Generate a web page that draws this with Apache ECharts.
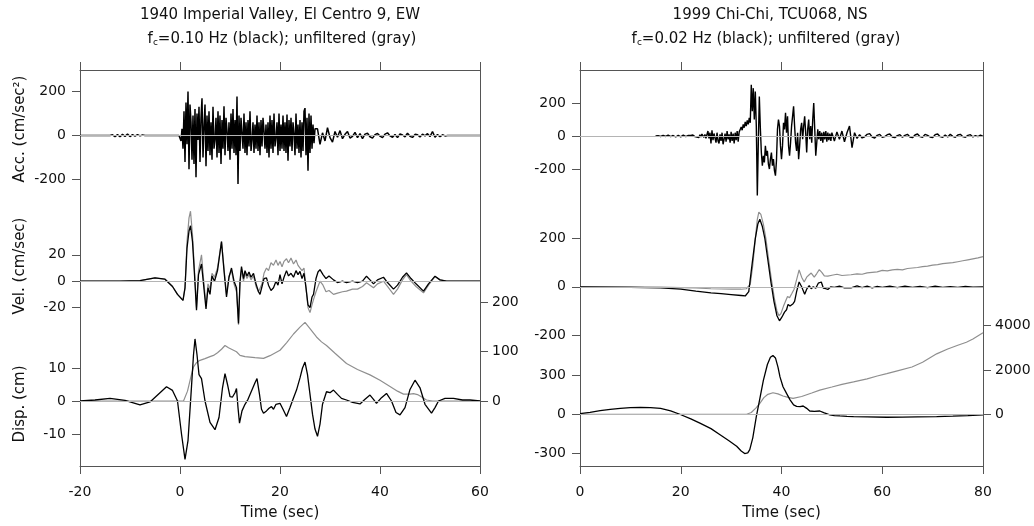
<!DOCTYPE html>
<html><head><meta charset="utf-8">
<script src="https://cdn.jsdelivr.net/npm/echarts@6/dist/echarts.min.js"></script>
<style>html,body{margin:0;padding:0;background:#fff}#c{width:1034px;height:526px}</style>
</head><body><div id="c"></div>
<script>
// ---------------- DATA ----------------
// 1940 Imperial Valley, El Centro 9, EW
const X_TICKS_L = [-20, 0, 20, 40, 60];
const X_TICKS_R = [0, 20, 40, 60, 80];
const Y_TICKS_L = { acc: [-200, 0, 200], vel: [-20, 0, 20], disp: [-10, 0, 10], dispGray: [0, 100, 200] };
const Y_TICKS_R = { acc: [-200, 0, 200], vel: [-200, 0, 200], disp: [-300, 0, 300], dispGray: [0, 2000, 4000] };

// acceleration (cm/s^2), uniformly sampled segments
const ACC_L_PRE = [0, 3, -5, 4, -6, 5, -4, 6, -5, 4, -3, 4, -2, 2, 0];            // t=-14 .. -7, step .5
const ACC_L_STRONG = [
  0, -25, 30, -60, 110, -120, 150, -40, 199, -153,
  140, 60, -110, 90, -130, 120, -190, 100, -20, 130,
  -120, 80, 169, -100, 40, 140, -140, 90, -70, 110,
  -90, 60, -110, 130, -60, -20, 80, -100, 110, -80,
  90, -130, 70, -60, 132, -90, 80, 20, -70, 60,
  -110, 100, -60, 120, -80, 70, -90, 177, -220, 90,
  -70, 80, 10, -60, 100, -80, 60, -90, 70, -50,
  110, -70, -20, 60, -80, 50, -60, 90, -70, 60,
  -90, 70, -50, 80, 20, -60, 50, -80, 60, -100,
  90, -60, 70, -80, 100, -50, -10, 60, -90, 100,
  -70, 50, -60, 90, -70, 60, -80, 95, -115, 70,
  -50, 80, -70, 60, 10, -90, 100, -60, 50, -80,
  70, -100, 60, -70, 110, 124, -90, 80, -160, 100,
  -80, 90, -60, 50, -35, 30];                                                       // t=0 .. 27, step .2
const ACC_L_TAIL = [30, -40, 12, -25, 35, -10, -30, 18, -8, 22,
  -15, 5, 18, -12, -4, 14, -10, 8, -14, 6,
  10, -6, -12, 4, 9, -3, -10, 6, 12, -2,
  -8, 4, -10, 7, 2, -6, 10, -4, -9, 5,
  3, -7, 6, -2, 8, -5, 18, -8, 4, -6,
  3, -2, 0];                                                                        // t=27.5 .. 53.5, step .5

// velocity (cm/s) [t, v]
const VEL_L_BLACK = [[-20,0],[-12,0],[-8,0.5],[-5,2.5],[-3,1.5],[-1.5,-4],[-0.5,-10],[0.6,-14.5],[1.0,-5],[1.4,25],[1.8,38],[2.1,42],[2.5,30],[2.9,5],[3.3,-22],[3.7,5],[4.3,13],[4.7,-2],[5.2,-21],[5.6,-5],[6.0,-10],[6.4,4],[6.9,0],[7.5,8],[8.3,30],[8.8,8],[9.3,-12],[9.8,3],[10.3,10],[10.8,0],[11.3,-5],[11.7,-32],[12.0,0],[12.3,11],[12.7,2],[13.0,8],[13.4,4],[13.8,7],[14.2,3],[14.7,6],[15.2,-2],[15.7,-8],[16.0,-10],[16.4,-4],[16.8,2],[17.3,2.5],[17.7,-3],[18.2,-7],[18.7,-5],[19.2,0],[19.6,-3],[20.0,5],[20.4,-2],[20.8,3],[21.3,8],[21.7,4],[22.2,6],[22.7,3],[23.2,8],[23.6,5],[24.0,7.5],[24.4,2],[24.8,6],[25.2,-5],[25.6,-18],[26.0,-20],[26.4,-12],[26.7,-10],[27.2,2],[27.6,7],[28.0,8.8],[28.6,5],[29.2,2],[29.8,4],[30.7,1],[31.5,-1],[32.5,0],[33.3,-1],[34.5,0],[35.5,-1],[36.5,0],[37.3,3.8],[38.0,1],[38.7,-2],[39.5,1],[40.7,3],[41.5,-1],[42.7,-6],[43.5,-3],[44.5,3],[45.3,6.3],[46.2,2],[47.2,-2],[48.7,-7.5],[49.7,-2],[51.0,3.8],[52.0,1],[53.3,0],[60,0]];
const VEL_L_GRAY = [[-20,0],[-12,0],[-8,0.5],[-5,2.5],[-3,1.5],[-1.5,-4],[-0.5,-10],[0.6,-14.5],[1.0,-5],[1.4,30],[1.8,48],[2.1,53],[2.5,35],[2.9,8],[3.3,-20],[3.7,8],[4.3,20],[4.7,2],[5.2,-18],[5.6,-2],[6.0,-6],[6.4,6],[6.9,3],[7.5,10],[8.3,30],[8.8,10],[9.3,-10],[9.8,4],[10.3,8],[10.8,-2],[11.3,-8],[11.7,-33],[12.0,-2],[12.3,9],[12.7,0],[13.0,6],[13.4,2],[13.8,5],[14.2,1],[14.7,4],[15.2,-4],[15.7,-8],[16.0,-8],[16.4,-2],[16.8,6],[17.3,10],[17.7,8],[18.2,14],[18.7,12],[19.2,16],[19.6,12],[20.0,15],[20.4,11],[20.8,15],[21.3,17],[21.7,14],[22.2,17.5],[22.7,13],[23.2,16],[23.6,12],[24.0,12.5],[24.4,8],[24.8,10],[25.2,-5],[25.6,-20],[26.0,-23.8],[26.4,-18],[26.7,-14],[27.2,-8],[27.6,-4],[28.0,0],[28.6,-3],[29.2,-8],[29.8,-7],[30.7,-10],[31.5,-9],[32.5,-8],[33.3,-7.5],[34.5,-6],[35.5,-6],[36.5,-4],[37.3,-1.2],[38.0,-3],[38.7,-5],[39.5,-2],[40.7,0],[41.5,-4],[42.7,-10],[43.5,-6],[44.5,1],[45.3,5],[46.2,0],[47.2,-4],[48.7,-8.8],[49.7,-3],[51.0,3.5],[52.0,1],[53.3,0],[60,0]];

// displacement: filtered (cm, left axis), unfiltered (cm, right axis)
const DISP_L_BLACK = [[-20,0],[-17,0.3],[-14,0.8],[-11,0.2],[-8,-1.2],[-6,-0.3],[-4,2.5],[-2.7,4.3],[-1.5,3.2],[-0.5,0],[0.3,-10],[1.0,-17.7],[1.6,-12],[2.2,2],[2.7,14],[3.0,18.8],[3.4,14],[3.8,8],[4.3,6.8],[5.0,0],[6.0,-6.5],[7.0,-8.7],[7.8,-5],[8.5,4],[9.0,8.3],[9.5,5],[10.0,1.3],[10.5,1.2],[11.0,2.5],[11.3,3.8],[11.6,-2],[11.9,-6.7],[12.4,-3],[13.0,-1],[13.6,0.5],[14.3,3],[15.0,5.5],[15.4,6.8],[15.9,2],[16.3,-2.5],[16.7,-3.7],[17.3,-3],[17.8,-2.2],[18.3,-1.7],[18.7,-2.5],[19.2,-1],[20,-0.7],[20.6,-2.5],[21.3,-4.7],[22.0,-2],[22.6,0.5],[23.3,3.3],[24.0,7],[24.5,10],[25.0,11.8],[25.5,8],[26.0,2],[26.5,-4],[27.0,-8.5],[27.5,-10.7],[28.0,-7],[28.5,-1],[29.3,2.8],[30,2.5],[30.7,3.3],[31.5,2],[32.3,0.8],[33.3,0.3],[34.5,-0.4],[36.0,-0.9],[37.0,0.5],[38.0,1.8],[38.7,0.5],[39.3,-0.7],[40.3,1],[41.3,2.3],[42.3,0],[43.2,-3.5],[44,-4.2],[45,-2],[46,3.5],[47,6.3],[48,4],[49,-1],[50.3,-3.7],[51.0,-2],[51.7,0],[53,0.8],[54.7,0.8],[56.5,0.3],[58,0.3],[60,0]];
const DISP_L_GRAY = [[-20,0],[0,0],[0.7,0],[1.5,20],[2.2,50],[2.7,69],[3.3,78],[4,82.5],[5,86],[6,90],[6.7,92.6],[7.5,98],[8.3,105],[9,112.7],[9.7,108],[10.7,103],[11.3,100],[12,92.6],[13,90],[14,89],[15,88],[16.7,86.5],[18,92],[20,103],[21.3,118],[22.7,136],[24,150],[25,159.6],[26,147],[27.3,130],[28.3,120],[29.3,112.7],[31,97],[33.3,76],[35.5,64],[38,53],[40,42],[42,29.5],[43.5,20],[44.7,14],[46,14],[46.7,15],[47.5,13],[48.5,7],[49.3,2],[50.5,0],[60,0]];

// 1999 Chi-Chi, TCU068, NS
const ACC_R_PRE = [0, 2, -3, 4, -3, 5, -4, 3, -6, 4, -5, 6, -4, 3];               // t=15 .. 21.5, step .5
const ACC_R_STRONG = [
  3, -5, 6, 2, -4, 8, -6, 5, -10, 8,
  -6, 12, 4, -8, 10, -14, -20, 30, -15, 20,
  -45, 35, -25, 15, 25, -40, 20, -30, -45, 10,
  -30, 20, -50, -20, 15, -35, 30, -20, 10, -40,
  25, -30, 15, -45, 20, -25, 30, -35, 25, 40,
  55, 35, 70, 50, 85, 60, 95, 70, 110, 80,
  310, 150, 290, 100, 270, 60, -360, -40, 240, 50,
  -100, -180, -120, -160, -60, -120, -90, -170, -200, -140,
  -100, -180, -140, -210, -240, -150, 40, 100, 60, -60,
  -140, -60, 80, 40, 140, 20, 120, -60, -120, -40,
  60, 120, 180, 60, -40, -90, 20, -140, -60, 40,
  80, -20, 60, 120, 20, -100, 40, 100, -20, 60,
  -40, 100, 200, 40, -120, -40, 40, -20, 30, -30,
  20, -40, 25, -20, 30, -35, 20, -25, 15, -30,
  20];                                                                              // t=22 .. 50, step .2
const ACC_R_TAIL = [-30, 25, -20, 30, -35, 20, 60, -70, 20, -15,
  8, -12, -5, 10, 14, -6, -12, 4, 10, -8,
  -4, 8, 12, -6, -10, 2, 8, -8, 4, 10,
  -6, -10, 6, 12, -4, -8, 10, 4, -6, -10,
  8, 12, -4, -8, 6, -6, 10, -2, -8, 6,
  10, -4, -8, 4, 8, -6, 2, -4, 5, -3];                                              // t=50.5 .. 80, step .5

const VEL_R_BLACK = [[0,0],[10,-2],[16,-4],[20,-10],[23,-18],[26,-25],[28,-28],[30,-32],[32,-36],[32.8,-38],[33.5,-20],[34.2,100],[34.8,200],[35.3,260],[35.7,280],[36.2,250],[36.7,200],[37.3,110],[37.9,20],[38.5,-60],[39.1,-120],[39.6,-141],[40.1,-125],[40.6,-105],[41.0,-95],[41.3,-73],[41.7,-80],[42.0,-86],[42.3,-70],[42.6,-60],[43.0,-20],[43.5,20],[44.0,0],[44.3,-15],[44.6,-31],[45.0,-10],[45.5,5],[45.9,-8],[46.3,0],[46.8,-6],[47.3,15],[47.9,20],[48.3,-5],[48.8,-8],[49.2,-11],[49.8,0],[50.5,-2],[51.5,3],[52.5,-4],[53.8,-4],[55,4],[56,-3],[57,3],[58,-4],[59,2],[60,-2],[61.5,3],[63,-3],[64.5,3],[66,-2],[67.5,2],[69,-3],[70.5,3],[72,-2],[73.5,1],[75,-2],[76.5,2],[78,-1],[80,0]];
const VEL_R_GRAY = [[0,0],[10,0],[16,-1],[20,-3],[23,-5],[26,-8],[28,-9],[30,-10],[32,-10],[33,-8],[33.8,10],[34.3,90],[34.8,200],[35.2,280],[35.5,310],[35.9,300],[36.4,260],[36.9,200],[37.4,120],[38,30],[38.6,-50],[39.1,-100],[39.5,-120],[39.9,-110],[40.4,-80],[40.8,-60],[41.2,-40],[41.6,-45],[42.0,-30],[42.5,-10],[43.0,30],[43.5,70],[44.0,40],[44.5,20],[45.0,40],[45.5,50],[45.9,57],[46.5,40],[47.0,55],[47.5,71],[48.0,60],[48.5,45],[49.2,44],[50,48],[51,52],[52,47],[53.8,50],[55,54],[56,52],[57,58],[58,60],[59,62],[60,68],[61,66],[62,70],[63,72],[64,70],[65,76],[66,78],[67,80],[68,84],[69,86],[70,90],[71,92],[72,96],[73,98],[74,100],[75,104],[76,108],[77,112],[78,116],[79,120],[80,125]];

const DISP_R_BLACK = [[0,5],[2,15],[4,28],[6,38],[8,45],[10,50],[12,53],[14,50],[16,45],[18,25],[19.8,0],[22,-35],[23.8,-68],[26,-110],[27.8,-156],[29.5,-200],[31.1,-244],[32,-280],[32.7,-300],[33.3,-295],[33.7,-270],[34.3,-180],[35,-18],[35.7,120],[36.4,259],[37.2,380],[37.8,435],[38.3,449],[38.8,430],[39.3,360],[39.7,285],[40.3,210],[41,159],[41.7,110],[42.4,71],[43,60],[43.7,58],[44.3,63],[45,45],[45.6,25],[46.5,22],[47.6,25],[48.5,10],[49.6,-5],[50.5,-10],[51.6,-13],[53,-16],[54.3,-18],[57,-20],[60.9,-23],[64,-22],[67,-20],[70.8,-18],[74,-14],[77,-10],[80,-5]];
const DISP_R_GRAY = [[0,0],[33.1,0],[34,80],[35,300],[35.7,492],[36.5,750],[37.3,900],[38.3,971],[39.3,920],[40.3,823],[41.3,760],[42.3,716],[44,800],[46,960],[47.6,1092],[50,1230],[52,1350],[54.3,1463],[57,1600],[59,1730],[60.9,1834],[63,1960],[65.9,2134],[68,2350],[70.8,2729],[73,2950],[75,3120],[76.7,3253],[78,3400],[79.6,3624],[80,3680]];

// ---------------- CHART ----------------
const FONT = 'DejaVu Sans';
const AX = '#555', BLACK = '#000', GRAY = '#8f8f8f', ZERO = '#b4b4b4';
const seg = (t0, dt, vals) => vals.map((v, i) => [Math.round((t0 + i * dt) * 1000) / 1000, v]);

const accL = [[-20, 0]].concat(seg(-14, 0.5, ACC_L_PRE), [[-0.2, 0]], seg(0, 0.2, ACC_L_STRONG), seg(27.5, 0.5, ACC_L_TAIL), [[60, 0]]);
const accR = seg(15, 0.5, ACC_R_PRE).concat(seg(22, 0.2, ACC_R_STRONG), seg(50.5, 0.5, ACC_R_TAIL));

function xAx(grid, min, max, bottom) {
  return {
    type: 'value', gridIndex: grid, position: bottom ? 'bottom' : 'top', min, max, interval: 20,
    axisLine: { show: true, onZero: false, lineStyle: { color: AX, width: 1 } },
    axisTick: { show: true, inside: false, length: 8, lineStyle: { color: AX, width: 1 } },
    axisLabel: { show: bottom, margin: 19, fontFamily: FONT, fontSize: 14, color: '#111' },
    splitLine: { show: false },
    name: bottom ? 'Time (sec)' : '', nameLocation: 'middle', nameGap: 40,
    nameTextStyle: { fontFamily: FONT, fontSize: 15, color: '#111' }
  };
}
function yAx(grid, pos, min, max, ticks, showLine) {
  return {
    type: 'value', gridIndex: grid, position: pos, min, max,
    axisLine: { show: showLine, onZero: false, lineStyle: { color: AX, width: 1 } },
    axisTick: { show: true, inside: false, length: 8, customValues: ticks, lineStyle: { color: AX, width: 1 } },
    axisLabel: { show: true, customValues: ticks, margin: pos === 'left' ? 14 : 12, fontFamily: FONT, fontSize: 14, color: '#111',
      formatter: (v) => String(v) },
    splitLine: { show: false }
  };
}
const zeroLine = { silent: true, symbol: 'none', label: { show: false }, lineStyle: { color: ZERO, width: 1, type: 'solid' }, data: [{ yAxis: 0 }], animation: false };
function line(data, xi, yi, color, z, withZero, w) {
  const s = { type: 'line', data, xAxisIndex: xi, yAxisIndex: yi, showSymbol: false, symbol: 'none', z,
    lineStyle: { color, width: w || 1 }, animation: false };
  if (withZero) s.markLine = zeroLine;
  return s;
}

const chart = echarts.init(document.getElementById('c'), null, { renderer: 'canvas' });
chart.setOption({
  backgroundColor: '#fff',
  animation: false,
  title: [
    { text: '1940 Imperial Valley, El Centro 9, EW', left: 280, top: 8, textAlign: 'center', padding: 0,
      textStyle: { fontFamily: FONT, fontSize: 15, fontWeight: 'normal', color: '#111' } },
    { text: 'f{s|c}=0.10 Hz (black); unfiltered (gray)', left: 282, top: 32, textAlign: 'center', padding: 0,
      textStyle: { fontFamily: FONT, fontSize: 15, fontWeight: 'normal', color: '#111',
        rich: { s: { fontFamily: FONT, fontSize: 9, color: '#111', verticalAlign: 'bottom', padding: [6, 0, 0, 0] } } } },
    { text: '1999 Chi-Chi, TCU068, NS', left: 770, top: 8, textAlign: 'center', padding: 0,
      textStyle: { fontFamily: FONT, fontSize: 15, fontWeight: 'normal', color: '#111' } },
    { text: 'f{s|c}=0.02 Hz (black); unfiltered (gray)', left: 766, top: 32, textAlign: 'center', padding: 0,
      textStyle: { fontFamily: FONT, fontSize: 15, fontWeight: 'normal', color: '#111',
        rich: { s: { fontFamily: FONT, fontSize: 9, color: '#111', verticalAlign: 'bottom', padding: [6, 0, 0, 0] } } } }
  ],
  grid: [
    { left: 80, top: 70, width: 400, height: 400, show: false },
    { left: 580, top: 70, width: 403, height: 400, show: false }
  ],
  xAxis: [xAx(0, -20, 60, true), xAx(0, -20, 60, false), xAx(1, 0, 80, true), xAx(1, 0, 80, false)],
  yAxis: [
    yAx(0, 'left', -1500, 297, Y_TICKS_L.acc, true),
    yAx(0, 'left', -140, 160, Y_TICKS_L.vel, false),
    yAx(0, 'left', -19.7, 100.3, Y_TICKS_L.disp, false),
    yAx(0, 'right', -132, 672, Y_TICKS_L.dispGray, true),
    yAx(1, 'left', -2000, 400, Y_TICKS_R.acc, true),
    yAx(1, 'left', -743, 899, Y_TICKS_R.vel, false),
    yAx(1, 'left', -395, 2628, Y_TICKS_R.disp, false),
    yAx(1, 'right', -2340, 15560, Y_TICKS_R.dispGray, true)
  ],
  series: [
    // left panel
    line(accL, 0, 0, BLACK, 3, true, 1.5),
    line(VEL_L_GRAY, 0, 1, GRAY, 2, true, 1.2),
    line(VEL_L_BLACK, 0, 1, BLACK, 3, false, 1.3),
    line(DISP_L_GRAY, 0, 3, GRAY, 2, false, 1.2),
    line(DISP_L_BLACK, 0, 2, BLACK, 3, true, 1.3),
    // right panel
    line(accR, 2, 4, BLACK, 3, true, 1.4),
    line(VEL_R_GRAY, 2, 5, GRAY, 2, true, 1.2),
    line(VEL_R_BLACK, 2, 5, BLACK, 3, false, 1.3),
    line(DISP_R_GRAY, 2, 7, GRAY, 2, false, 1.2),
    line(DISP_R_BLACK, 2, 6, BLACK, 3, true, 1.3)
  ],
  graphic: [
    { type: 'text', x: 20, y: 129, rotation: Math.PI / 2,
      style: { text: 'Acc. (cm/sec²)', font: '15px "DejaVu Sans"', fill: '#111', align: 'center', verticalAlign: 'middle', textAlign: 'center', textVerticalAlign: 'middle' } },
    { type: 'text', x: 20, y: 266, rotation: Math.PI / 2,
      style: { text: 'Vel. (cm/sec)', font: '15px "DejaVu Sans"', fill: '#111', align: 'center', verticalAlign: 'middle', textAlign: 'center', textVerticalAlign: 'middle' } },
    { type: 'text', x: 20, y: 404, rotation: Math.PI / 2,
      style: { text: 'Disp. (cm)', font: '15px "DejaVu Sans"', fill: '#111', align: 'center', verticalAlign: 'middle', textAlign: 'center', textVerticalAlign: 'middle' } }
  ]
});
</script>
</body></html>
